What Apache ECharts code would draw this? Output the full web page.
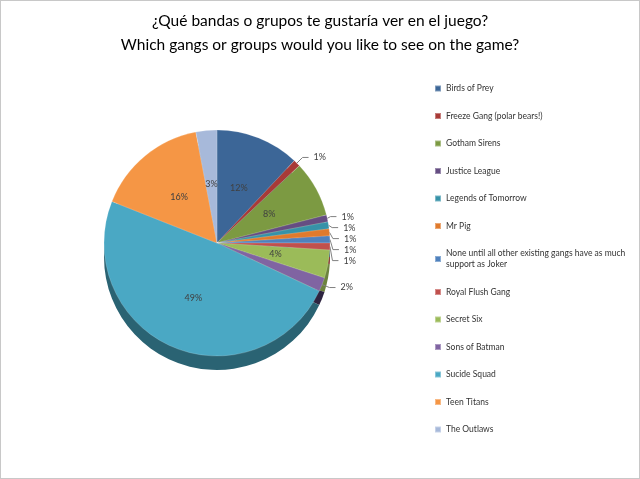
<!DOCTYPE html>
<html>
<head>
<meta charset="utf-8">
<script src="https://cdn.jsdelivr.net/npm/echarts@6/dist/echarts.min.js"></script>
<style>
  html, body { margin: 0; padding: 0; background: #fff; }
  #main { width: 640px; height: 479px; box-sizing: border-box; border: 1px solid #c8c8c8; }
</style>
</head>
<body>
<div id="main"></div>
<script>
// survey answers, in legend order
const categories = [
  'Birds of Prey',
  'Freeze Gang (polar bears!)',
  'Gotham Sirens',
  'Justice League',
  'Legends of Tomorrow',
  'Mr Pig',
  'None until all other existing gangs have as much support as Joker',
  'Royal Flush Gang',
  'Secret Six',
  'Sons of Batman',
  'Sucide Squad',
  'Teen Titans',
  'The Outlaws'
];
const shares = [12, 1, 8, 1, 1, 1, 1, 1, 4, 2, 49, 16, 3];

const topColors = ['#3C6697', '#A83A37', '#7C9A42', '#654D82', '#3692A8', '#E07A2C',
  '#4F81BD', '#C0504D', '#9BBB59', '#8064A2', '#4AA8C4', '#F59645', '#A7B9DA'];
const sideColors = ['#27456A', '#742725', '#556B2C', '#45345A', '#245F6E', '#9C531D',
  '#365A84', '#863734', '#6C833D', '#2E2440', '#2A6373', '#AD6830', '#75829A'];

const chart = echarts.init(document.getElementById('main'));

const topData = categories.map((name, i) => ({
  name: name,
  value: shares[i],
  itemStyle: { color: topColors[i] },
  label: shares[i] > 2
    ? { position: 'inside' }
    : { position: 'outside' }
}));

const sideData = categories.map((name, i) => ({
  name: name,
  value: shares[i],
  itemStyle: { color: sideColors[i] }
}));

chart.setOption({
  animation: false,
  title: {
    text: '¿Qué bandas o grupos te gustaría ver en el juego?\nWhich gangs or groups would you like to see on the game?',
    left: 'center',
    top: 3,
    textStyle: { fontFamily: 'Lato', fontSize: 15.5, fontWeight: 'normal', color: '#000', lineHeight: 24 }
  },
  legend: {
    orient: 'vertical',
    left: 428,
    top: 77,
    data: categories,
    icon: 'rect',
    itemWidth: 6,
    itemHeight: 6,
    itemGap: 16.5,
    selectedMode: false,
    // long answer wraps onto a second line like the original
    formatter: name => name.replace(' support', '\nsupport'),
    textStyle: { fontFamily: 'Lato', fontSize: 8.5, color: '#333', lineHeight: 11 }
  },
  series: [
    {
      type: 'pie',
      name: 'top',
      z: 3,
      center: [216, 242],
      radius: 113,
      startAngle: 90,
      clockwise: true,
      data: topData,
      itemStyle: { borderColor: 'rgba(255,255,255,0.35)', borderWidth: 0.5 },
      label: {
        formatter: p => Math.round(p.percent) + '%',
        fontFamily: 'Lato',
        fontSize: 9,
        color: '#404040'
      },
      labelLine: { length: 8, length2: 6, lineStyle: { color: '#808080', width: 1 } },
      emphasis: { disabled: true }
    },
    {
      type: 'pie',
      name: 'side',
      z: 1,
      silent: true,
      center: [216, 256],
      radius: 113,
      startAngle: 90,
      clockwise: true,
      data: sideData,
      label: { show: false },
      labelLine: { show: false },
      emphasis: { disabled: true }
    }
  ]
});
</script>
</body>
</html>
